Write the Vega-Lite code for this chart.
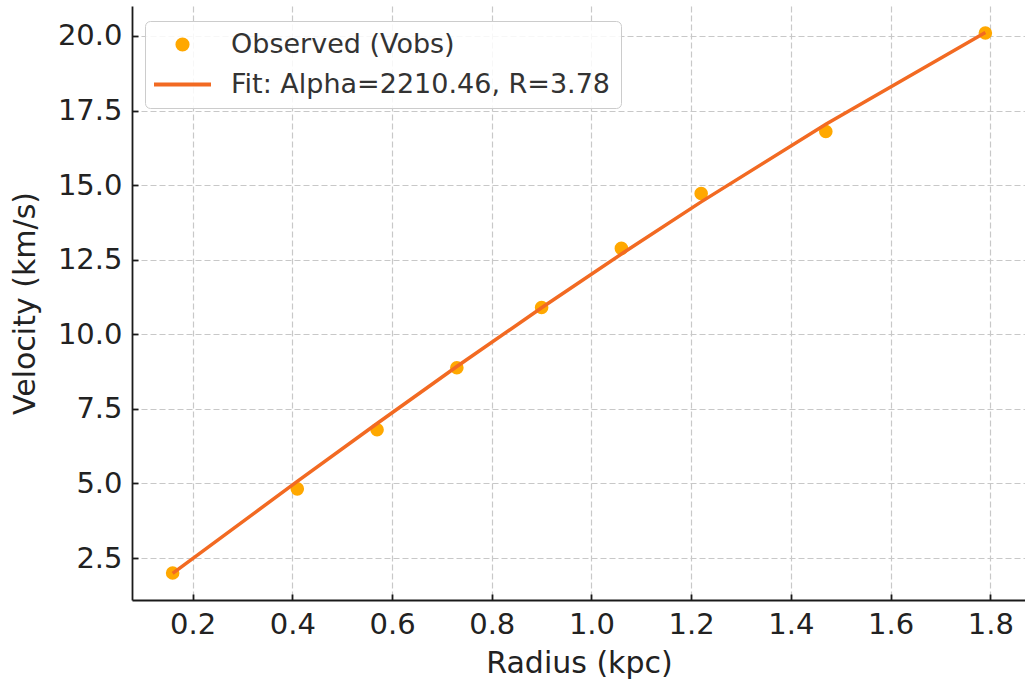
{
  "$schema": "https://vega.github.io/schema/vega-lite/v6.json",
  "width": 894,
  "height": 594,
  "autosize": "none",
  "padding": {"left": 132, "top": 6, "right": 0, "bottom": 85},
  "background": "white",
  "config": {
    "font": "DejaVu Sans",
    "view": {"stroke": null},
    "axis": {
      "domainColor": "#1a1a1a",
      "domainWidth": 1.8,
      "tickColor": "#1a1a1a",
      "tickWidth": 1.8,
      "tickSize": -6,
      "labelPadding": 16,
      "labelFontSize": 29,
      "labelColor": "#222222",
      "labelFont": "DejaVu Sans",
      "titleFont": "DejaVu Sans",
      "titleFontSize": 30,
      "titleFontWeight": "normal",
      "titleColor": "#222222",
      "gridColor": "#c8c8c8",
      "gridDash": [6, 3],
      "gridWidth": 1.2
    }
  },
  "datasets": {
    "obs": [
      {"radius": 0.16, "velocity": 2.0, "series": "Observed (Vobs)"},
      {"radius": 0.41, "velocity": 4.82, "series": "Observed (Vobs)"},
      {"radius": 0.57, "velocity": 6.8, "series": "Observed (Vobs)"},
      {"radius": 0.73, "velocity": 8.88, "series": "Observed (Vobs)"},
      {"radius": 0.90, "velocity": 10.9, "series": "Observed (Vobs)"},
      {"radius": 1.06, "velocity": 12.88, "series": "Observed (Vobs)"},
      {"radius": 1.22, "velocity": 14.72, "series": "Observed (Vobs)"},
      {"radius": 1.47, "velocity": 16.8, "series": "Observed (Vobs)"},
      {"radius": 1.79, "velocity": 20.1, "series": "Observed (Vobs)"}
    ],
    "fit": [
      {"radius": 0.16, "velocity": 1.99, "series": "Fit: Alpha=2210.46, R=3.78"},
      {"radius": 0.41, "velocity": 5.07, "series": "Fit: Alpha=2210.46, R=3.78"},
      {"radius": 0.57, "velocity": 7.01, "series": "Fit: Alpha=2210.46, R=3.78"},
      {"radius": 0.73, "velocity": 8.92, "series": "Fit: Alpha=2210.46, R=3.78"},
      {"radius": 0.90, "velocity": 10.89, "series": "Fit: Alpha=2210.46, R=3.78"},
      {"radius": 1.06, "velocity": 12.69, "series": "Fit: Alpha=2210.46, R=3.78"},
      {"radius": 1.22, "velocity": 14.44, "series": "Fit: Alpha=2210.46, R=3.78"},
      {"radius": 1.47, "velocity": 17.04, "series": "Fit: Alpha=2210.46, R=3.78"},
      {"radius": 1.79, "velocity": 20.12, "series": "Fit: Alpha=2210.46, R=3.78"}
    ]
  },
  "encoding": {
    "x": {
      "field": "radius",
      "type": "quantitative",
      "title": "Radius (kpc)",
      "scale": {"domain": [0.0785, 1.8715], "nice": false, "zero": false},
      "axis": {"values": [0.2, 0.4, 0.6, 0.8, 1.0, 1.2, 1.4, 1.6, 1.8], "format": ".1f", "titlePadding": 9}
    },
    "y": {
      "field": "velocity",
      "type": "quantitative",
      "title": "Velocity (km/s)",
      "scale": {"domain": [1.095, 21.005], "nice": false, "zero": false},
      "axis": {"values": [2.5, 5, 7.5, 10, 12.5, 15, 17.5, 20], "format": ".1f", "titlePadding": 17}
    }
  },
  "layer": [
    {
      "data": {"name": "obs"},
      "mark": {"type": "point", "filled": true, "opacity": 1, "size": 185},
      "encoding": {
        "color": {
          "field": "series",
          "type": "nominal",
          "scale": {"domain": ["Observed (Vobs)", "Fit: Alpha=2210.46, R=3.78"], "range": ["#FFA800", "#F26A22"]},
          "legend": {
            "title": null,
            "orient": "none",
            "legendX": 13,
            "legendY": 15,
            "padding": 10,
            "fillColor": "rgba(255,255,255,0.85)",
            "strokeColor": "#cccccc",
            "cornerRadius": 5,
            "labelFontSize": 27,
            "labelColor": "#333333",
            "labelFont": "DejaVu Sans",
            "labelOffset": 35,
            "symbolOffset": 14,
            "rowPadding": 12,
            "symbolSize": 3249,
            "symbolStrokeWidth": 3.5,
            "symbolOpacity": 1,
            "labelLimit": 600,
            "encode": {
              "symbols": {
                "update": {
                  "stroke": {"scale": "color", "field": "value"},
                  "strokeWidth": {"signal": "datum.value === 'Observed (Vobs)' ? 0 : 3.8"},
                  "size": {"signal": "datum.value === 'Observed (Vobs)' ? 200 : 3249"}
                }
              }
            }
          }
        },
        "shape": {
          "field": "series",
          "type": "nominal",
          "scale": {"domain": ["Observed (Vobs)", "Fit: Alpha=2210.46, R=3.78"], "range": ["circle", "stroke"]},
          "legend": null
        }
      }
    },
    {
      "data": {"name": "fit"},
      "mark": {"type": "line", "strokeWidth": 3.5},
      "encoding": {
        "color": {"field": "series", "type": "nominal"}
      }
    }
  ]
}
